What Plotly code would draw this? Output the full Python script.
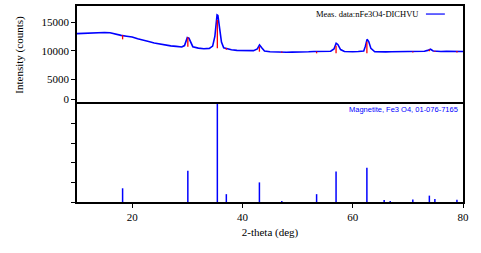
import plotly.graph_objects as go

two_theta = [10, 11, 12, 13, 14, 15, 16, 17, 18, 19, 20, 21, 22, 23, 24, 25, 26, 27, 28, 29,
             29.5, 29.8, 30.0, 30.3, 30.7, 31, 32, 33, 34, 34.6, 35.0, 35.25, 35.4, 35.55, 35.8,
             36.2, 36.6, 37, 37.3, 38, 39, 40, 41, 42, 42.7, 43.1, 43.5, 44, 45, 46, 47, 48,
             49, 50, 51, 52, 53, 54, 55, 56, 56.6, 57.0, 57.3, 57.8, 58.5, 59, 60, 61, 62,
             62.3, 62.6, 62.9, 63.3, 64, 65, 66, 67, 68, 69, 70, 71, 72, 73, 73.6, 74.1,
             74.6, 75, 76, 77, 78, 79, 80]
intensity = [13000, 13050, 13100, 13200, 13250, 13200, 13150, 12900, 12700, 12550, 12400,
             12100, 11900, 11600, 11350, 11150, 11000, 10850, 10750, 10650,
             10900, 11600, 12300, 12200, 11200, 10700, 10450, 10350, 10400, 10800, 12500,
             16000, 16300, 16200, 14500, 11500, 10500, 10400, 10300, 10150, 10050, 10000,
             9980, 10000, 10300, 11000, 10500, 9950, 9800, 9750, 9750, 9720, 9750, 9730,
             9780, 9800, 9850, 9880, 9850, 9900, 10300, 11300, 11100, 10200, 9850, 9800,
             9820, 9850, 9950, 10800, 12000, 11600, 10400, 9800, 9750, 9780, 9800, 9800,
             9850, 9820, 9830, 9850, 9900, 10050, 10250, 9950, 9900, 9850, 9880, 9850,
             9900, 9850]

# Reference pattern: Magnetite, Fe3 O4, 01-076-7165 (position, relative intensity %)
ref_pos = [18.27, 30.10, 35.45, 37.08, 43.08, 47.14, 53.45, 56.98, 62.57, 65.70, 66.80,
           70.90, 73.90, 74.90, 78.90]
ref_rel = [14, 32, 100, 8, 20, 1, 8, 31, 35, 2, 1, 2.5, 6.5, 3, 2.3]

# Red peak marks drawn on the measured pattern (top / bottom counts)
mark_pos = [18.27, 30.10, 35.45, 37.08, 43.08, 47.14, 53.45, 56.98, 62.57, 70.90, 73.90, 74.90, 78.90]
mark_top = [12750, 12350, 15400, 10450, 10700, 9850, 9850, 10870, 11580, 9850, 10200, 10000, 9950]
mark_bot = [12000, 10700, 10420, 10150, 9820, 9650, 9530, 9530, 9530, 9700, 9900, 9800, 9700]

y_tickvals = [1450, 5000, 10000, 15000]
y_ticktext = ["0", "5000", "10000", "15000"]
x_tickvals = [20, 40, 60, 80]

stick_x, stick_y = [], []
for p, r in zip(ref_pos, ref_rel):
    stick_x += [p, p, None]
    stick_y += [0, r, None]

mark_x, mark_y = [], []
for p, t, b in zip(mark_pos, mark_top, mark_bot):
    mark_x += [p, p, None]
    mark_y += [b, t, None]

fig = go.Figure()
fig.add_trace(go.Scatter(x=two_theta, y=intensity, mode="lines",
                         line=dict(color="#0000ff", width=1.6),
                         xaxis="x2", yaxis="y2", showlegend=False, hoverinfo="skip"))
fig.add_trace(go.Scatter(x=mark_x, y=mark_y, mode="lines",
                         line=dict(color="#ff0000", width=1.3),
                         xaxis="x2", yaxis="y2", showlegend=False, hoverinfo="skip"))
fig.add_trace(go.Scatter(x=stick_x, y=stick_y, mode="lines",
                         line=dict(color="#0000ff", width=1.5),
                         xaxis="x", yaxis="y", showlegend=False, hoverinfo="skip"))

serif = "Liberation Serif, Times New Roman, serif"
axis_common = dict(showline=True, linecolor="black", linewidth=1.5,
                   showgrid=False, zeroline=False)

fig.update_layout(
    width=481, height=253,
    margin=dict(l=77, r=18, t=6, b=51),
    paper_bgcolor="white", plot_bgcolor="white",
    font=dict(family=serif, size=11, color="black"),
    xaxis=dict(domain=[0, 1], range=[10, 80], anchor="y", tickvals=x_tickvals,
               ticks="outside", ticklen=4, tickcolor="black", tickwidth=1,
               tickfont=dict(family=serif, size=11, color="black"),
               title=dict(text="2-theta (deg)", standoff=6,
                          font=dict(family=serif, size=11, color="black")),
               mirror=True, **axis_common),
    yaxis=dict(domain=[0, 0.5], range=[0, 100], anchor="x",
               tickvals=[0, 20, 40, 60, 80], showticklabels=False,
               ticks="outside", ticklen=4, tickcolor="black", tickwidth=1,
               mirror=True, **axis_common),
    xaxis2=dict(domain=[0, 1], range=[10, 80], anchor="y2", side="top",
                showticklabels=False, ticks="", mirror=False, **axis_common),
    yaxis2=dict(domain=[0.5, 1], range=[600, 17875], anchor="x2",
                tickvals=y_tickvals, ticktext=y_ticktext,
                ticks="outside", ticklen=4, tickcolor="black", tickwidth=1,
                tickfont=dict(family=serif, size=11, color="black"),
                title=dict(text="Intensity (counts)", standoff=16,
                           font=dict(family=serif, size=11, color="black")),
                mirror=True, **axis_common),
    annotations=[
        dict(text="Meas. data:nFe3O4-DICHVU", xref="paper", yref="paper",
             x=0.888, y=0.959, xanchor="right", yanchor="middle", showarrow=False,
             font=dict(family=serif, size=8.5, color="black")),
        dict(text="Magnetite, Fe3 O4, 01-076-7165", xref="paper", yref="paper",
             x=0.993, y=0.474, xanchor="right", yanchor="middle", showarrow=False,
             font=dict(family="Liberation Sans", size=7.5, color="#0000ff")),
    ],
    shapes=[
        dict(type="line", xref="paper", yref="paper", x0=0.904, x1=0.953,
             y0=0.959, y1=0.959, line=dict(color="#0000ff", width=1.2)),
    ],
)

fig.write_html("out.html", config={"displayModeBar": False},
               post_script="document.body.style.margin='0';document.body.style.padding='0';")
